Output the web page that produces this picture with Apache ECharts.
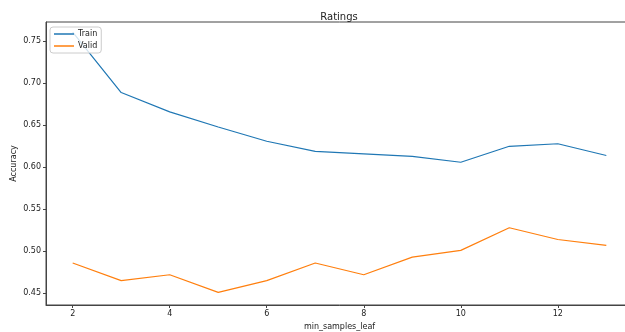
<!DOCTYPE html>
<html>
<head>
<meta charset="utf-8">
<script src="https://cdn.jsdelivr.net/npm/echarts@6/dist/echarts.min.js"></script>
<style>
html,body{margin:0;padding:0;overflow:hidden;background:#fff;}
#c{width:678px;height:332px;}
</style>
</head>
<body>
<div id="c"></div>
<script>
const minSamplesLeaf = [2,3,4,5,6,7,8,9,10,11,12,13];
const trainAcc = [0.761,0.689,0.666,0.648,0.631,0.619,0.616,0.613,0.606,0.625,0.628,0.614];
const validAcc = [0.486,0.465,0.472,0.451,0.465,0.486,0.472,0.493,0.501,0.528,0.514,0.507];
const xTicks = [2,4,6,8,10,12];
const yTicks = [0.45,0.50,0.55,0.60,0.65,0.70,0.75];

const font = 'DejaVu Sans';
const chart = echarts.init(document.getElementById('c'), null, {renderer:'canvas'});
chart.setOption({
  animation:false,
  backgroundColor:'#fff',
  title:{text:'Ratings',left:'center',top:7,textStyle:{fontFamily:font,fontSize:10,fontWeight:'normal',color:'#222'}},
  legend:{
    orient:'vertical',left:50,top:27,
    data:['Train','Valid'],
    icon:'rect',itemWidth:20,itemHeight:1.5,itemGap:4,
    backgroundColor:'rgba(255,255,255,0.8)',borderColor:'#ccc',borderWidth:1,borderRadius:3,
    padding:[3,4,3,4],
    textStyle:{fontFamily:font,fontSize:8,color:'#222',padding:[0,0,0,-1]}
  },
  grid:{left:46,right:45,top:22,bottom:27,outerBoundsMode:'none',containLabel:false,show:true,borderColor:'#444',borderWidth:1,backgroundColor:'transparent'},
  xAxis:{
    type:'value',min:1.45,max:13.55,
    name:'min_samples_leaf',nameLocation:'middle',nameGap:18,nameMoveOverlap:false,
    nameTextStyle:{fontFamily:font,fontSize:8,color:'#222'},
    axisLine:{show:true,lineStyle:{color:'#444'}},
    axisTick:{show:true,length:3,customValues:xTicks,lineStyle:{color:'#444'}},
    axisLabel:{customValues:xTicks,fontFamily:font,fontSize:8,color:'#222',margin:5},
    splitLine:{show:false}
  },
  yAxis:{
    type:'value',min:0.436,max:0.773,
    name:'Accuracy',nameLocation:'middle',nameRotate:90,nameGap:28,nameMoveOverlap:false,
    nameTextStyle:{fontFamily:font,fontSize:8,color:'#222'},
    axisLine:{show:true,lineStyle:{color:'#444'}},
    axisTick:{show:true,length:3,customValues:yTicks,lineStyle:{color:'#444'}},
    axisLabel:{customValues:yTicks,fontFamily:font,fontSize:8,color:'#222',margin:5,formatter:v=>v.toFixed(2)},
    splitLine:{show:false}
  },
  series:[
    {name:'Train',type:'line',data:minSamplesLeaf.map((x,i)=>[x,trainAcc[i]]),showSymbol:false,symbol:'none',lineStyle:{color:'#1f77b4',width:1.2},itemStyle:{color:'#1f77b4'}},
    {name:'Valid',type:'line',data:minSamplesLeaf.map((x,i)=>[x,validAcc[i]]),showSymbol:false,symbol:'none',lineStyle:{color:'#ff7f0e',width:1.2},itemStyle:{color:'#ff7f0e'}}
  ]
});
</script>
</body>
</html>
